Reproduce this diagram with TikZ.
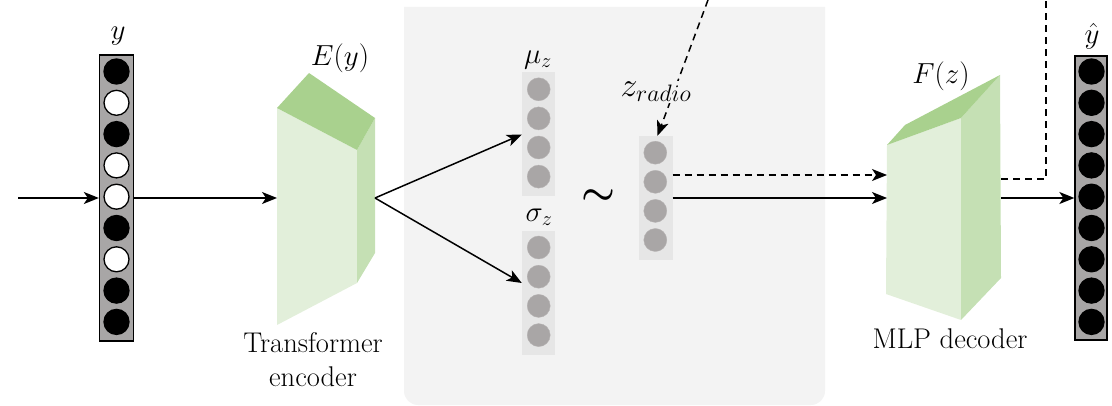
\RequirePackage{fix-cm}
\documentclass[tikz,border=0pt]{standalone}
\usepackage{amsmath}
\usepackage{fontspec}
\usetikzlibrary{arrows.meta,calc}

\definecolor{panelgray}{HTML}{F3F3F3}
\definecolor{colgray}{HTML}{E6E6E6}
\definecolor{unitgray}{HTML}{A9A6A6}
\definecolor{vecgray}{HTML}{A8A6A6}
\definecolor{gtop}{HTML}{A9D18E}
\definecolor{gfront}{HTML}{E2EFDA}
\definecolor{gside}{HTML}{C5E0B4}

\tikzset{
  lbl/.style={font=\fontsize{29}{33}\selectfont, inner sep=0pt},
  txt/.style={font=\fontsize{28.5}{34}\selectfont, inner sep=0pt, align=center},
  arr/.style={line width=1.5pt, -{Stealth[length=15pt,width=12pt,inset=4pt]}},
  dashline/.style={line width=1.5pt, dash pattern=on 7pt off 5pt},
  vecbox/.style={draw=black, line width=1.3pt, fill=vecgray, minimum width=34pt, inner sep=0pt},
  bitone/.style={circle, draw=black, line width=1.3pt, fill=black, minimum size=25pt, inner sep=0pt},
  bitzero/.style={bitone, fill=white},
  latbox/.style={fill=colgray, minimum width=33pt, inner sep=0pt},
  unit/.style={circle, fill=unitgray, draw=unitgray!85!white, minimum size=23pt, inner sep=0pt},
}

\begin{document}
\begin{tikzpicture}[x=1pt,y=-1pt]
\useasboundingbox (0,0) rectangle (1112,406);

% latent-space panel
\fill[panelgray] (404,7) -- (825,7) -- (825,391) arc[start angle=0,end angle=90,radius=14]
  -- (418,405) arc[start angle=90,end angle=180,radius=14] -- cycle;

% input vector y
\node[vecbox, minimum height=286pt] (ycol) at (116.5,198) {};
\foreach \i/\s in {1/bitone,2/bitzero,3/bitone,4/bitzero,5/bitzero,6/bitone,7/bitzero,8/bitone,9/bitone}
  \node[\s] (y\i) at (116.5,{71.5+31.3*(\i-1)}) {};
\node[lbl] (ylab) at (118,36) {$y$};

% output vector y-hat
\node[vecbox, minimum height=284pt, minimum width=32pt] (yhat) at (1091,198) {};
\foreach \i in {1,...,9}
  \node[bitone] (yh\i) at (1091.5,{71.5+31.3*(\i-1)}) {};
\node[lbl] (yhatlab) at (1092,36) {$\hat{y}$};

% transformer encoder block
\coordinate (e1) at (277,108);
\coordinate (e2) at (309,73);
\coordinate (e3) at (375,118);
\coordinate (e4) at (357,150);
\coordinate (e5) at (357,283);
\coordinate (e6) at (277,325);
\coordinate (e7) at (375,253);
\fill[gfront] (e1) -- (e4) -- (e5) -- (e6) -- cycle;
\fill[gside] (e4) -- (e3) -- (e7) -- (e5) -- cycle;
\fill[gtop] (e1) -- (e2) -- (e3) -- (e4) -- cycle;
\coordinate (encin) at (277,198);
\coordinate (encout) at (375,198);
\node[lbl] (elab) at (340,58) {$E(y)$};
\node[txt] (etxt) at (313,360) {Transformer\\encoder};

% MLP decoder block
\coordinate (d1) at (887,145);
\coordinate (d2) at (905,125);
\coordinate (d3) at (1000,75);
\coordinate (d4) at (961,118);
\coordinate (d5) at (961,320);
\coordinate (d6) at (886,294);
\coordinate (d7) at (1001,278);
\fill[gfront] (d1) -- (d4) -- (d5) -- (d6) -- cycle;
\fill[gside] (d4) -- (d3) -- (d7) -- (d5) -- cycle;
\fill[gtop] (d1) -- (d2) -- (d3) -- (d4) -- cycle;
\coordinate (decin) at (887,198);
\coordinate (decdash) at (887,175);
\coordinate (decout) at (1001,198);
\coordinate (decdashout) at (1001,179);
\node[lbl] (flab) at (941,76) {$F(z)$};
\node[txt] (ftxt) at (950,339) {MLP decoder};

% mean and deviation vectors
\node[latbox, minimum height=124pt] (mu) at (538.5,134.5) {};
\foreach \i in {1,...,4}
  \node[unit] (mu\i) at (538.7,{89.3+29.1*(\i-1)}) {};
\node[lbl] (mulab) at (538,60) {$\mu_z$};

\node[latbox, minimum height=124pt] (sigma) at (538.5,293) {};
\foreach \i in {1,...,4}
  \node[unit] (s\i) at (538.7,{247.5+29.2*(\i-1)}) {};
\node[lbl] (sigmalab) at (539,217) {$\sigma_z$};

\node[font=\fontsize{38}{38}\selectfont, inner sep=0pt] (tilde) at (598,197) {$\boldsymbol{\sim}$};

% sampled latent vector
\node[latbox, minimum height=124pt, minimum width=34pt] (zr) at (655.5,198) {};
\foreach \i in {1,...,4}
  \node[unit] (z\i) at (655.3,{152.7+29.1*(\i-1)}) {};

% connectors
\coordinate (in) at (18,198);
\draw[arr] (in) -- (ycol.west);
\draw[arr] (ycol.east) -- (encin);
\draw[arr] (encout) -- (mu.west);
\draw[arr] (encout) -- ([yshift=10pt]sigma.west);
\draw[arr] (zr.east) -- (decin);
\draw[arr, dash pattern=on 7pt off 5pt] ([yshift=23pt]zr.east) -- (decdash);
\draw[arr] (decout) -- (yhat.west);
\coordinate (topfeed) at (1046,0);
\draw[dashline] (decdashout) -| (topfeed);
\coordinate (radiosrc) at (708,0);
\draw[arr, dash pattern=on 7pt off 5pt] (radiosrc) -- ([xshift=2pt]zr.north);
\node[lbl, font=\fontsize{34}{36}\selectfont, fill=panelgray, inner sep=1pt] (zlab) at (656,92) {$z_{radio}$};
\end{tikzpicture}
\end{document}
